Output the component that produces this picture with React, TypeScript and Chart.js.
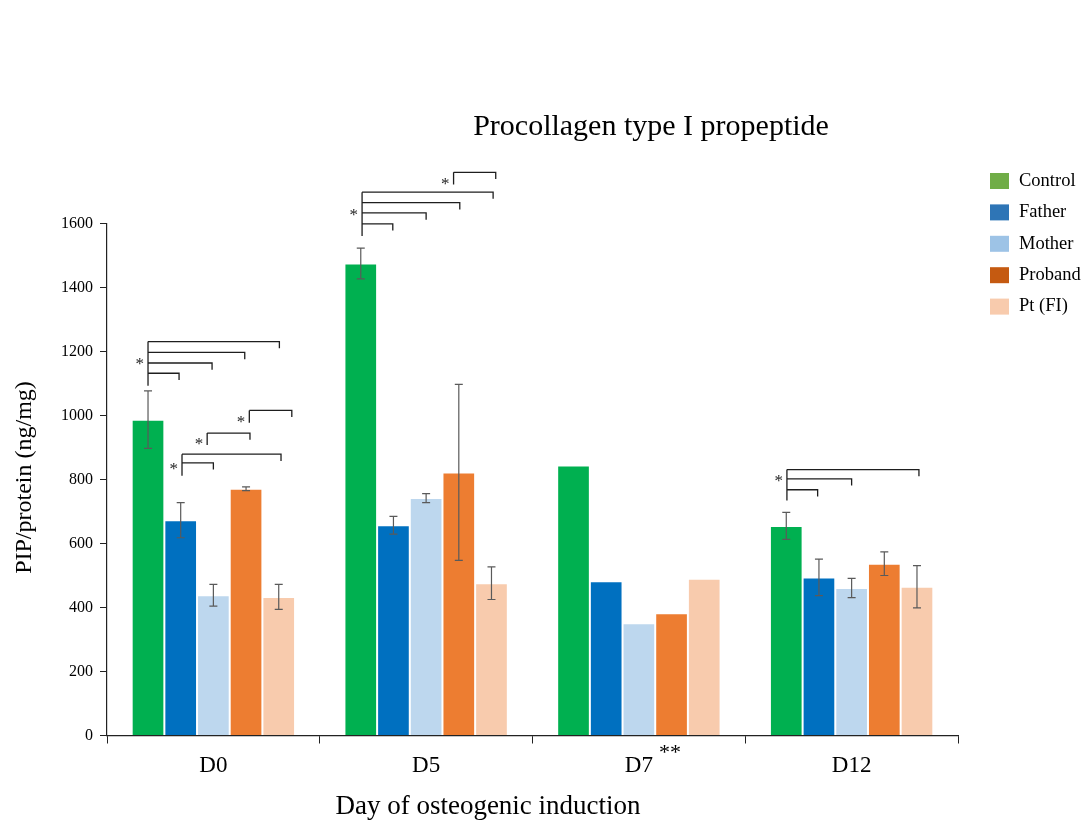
import React, { useEffect, useRef } from 'react';
import { Chart, registerables } from 'chart.js';

Chart.register(...registerables);

const FONT = '"Liberation Serif", "Times New Roman", serif';

const categories = ['D0', 'D5', 'D7', 'D12'];
const seriesNames = ['Control', 'Father', 'Mother', 'Proband', 'Pt (FI)'];

const controlValues = [987, 1475, 844, 655];
const fatherValues = [673, 657, 482, 494];
const motherValues = [438, 742, 351, 461];
const probandValues = [771, 822, 382, 537];
const ptValues = [433, 476, 490, 465];

const controlErrors = [90, 48, null, 42];
const fatherErrors = [55, 28, null, 57];
const motherErrors = [34, 14, null, 30];
const probandErrors = [6, 275, null, 37];
const ptErrors = [39, 51, null, 66];

const barColors = ['#00b050', '#0070c0', '#bdd7ee', '#ed7d31', '#f8cbad'];
const legendColors = ['#70ad47', '#2e75b6', '#9dc3e6', '#c55a11', '#f8cbad'];

const yMin = 0;
const yMax = 1600;
const yStep = 200;

const categoryMarks = ['', '', '**', ''];

// significance brackets: category, start slot (bar index), end slots, levels (data units), base of left line, star level
const sigCats = [0, 0, 0, 0, 1, 1, 3];
const sigFrom = [0, 1.04, 1.81, 3.1, 0.04, 2.84, 0.02];
const sigTo = [[0.95, 1.96, 2.96, 4.02], [2.0, 4.07], [3.12], [4.4], [0.98, 2.0, 3.03, 4.05], [4.13], [0.96, 2.0, 4.06]];
const sigLevels = [[1132, 1164, 1197, 1231], [852, 879], [945], [1016], [1599, 1633, 1665, 1698], [1760], [768, 802, 831]];
const sigBase = [1093, 812, 908, 977, 1561, 1722, 734];
const sigStar = [1170, 842, 921, 988, 1635, 1734, 806];
const sigDrop = 21;

const chartTitle = 'Procollagen type I propeptide';
const yTitle = 'PIP/protein (ng/mg)';
const xTitle = 'Day of osteogenic induction';

const valueSets = [controlValues, fatherValues, motherValues, probandValues, ptValues];
const errorSets = [controlErrors, fatherErrors, motherErrors, probandErrors, ptErrors];

const overlayPlugin = {
  id: 'overlay',
  afterDatasetsDraw(chart: any) {
    const ctx = chart.ctx;
    const ys = chart.scales.y;
    ctx.save();
    // error bars
    ctx.strokeStyle = '#5a5a5a';
    ctx.lineWidth = 1.2;
    chart.data.datasets.forEach((ds: any, i: number) => {
      const meta = chart.getDatasetMeta(i);
      meta.data.forEach((el: any, j: number) => {
        const e = errorSets[i][j];
        if (e == null) return;
        const v = ds.data[j];
        const yt = ys.getPixelForValue(v + e);
        const yb = ys.getPixelForValue(v - e);
        const x = el.x;
        ctx.beginPath();
        ctx.moveTo(x, yt); ctx.lineTo(x, yb);
        ctx.moveTo(x - 4, yt); ctx.lineTo(x + 4, yt);
        ctx.moveTo(x - 4, yb); ctx.lineTo(x + 4, yb);
        ctx.stroke();
      });
    });

    // brackets
    const first = chart.getDatasetMeta(0);
    const last = chart.getDatasetMeta(chart.data.datasets.length - 1);
    const n = chart.data.datasets.length - 1;
    const slotX = (cat: number, s: number) => {
      const x0 = first.data[cat].x;
      const x4 = last.data[cat].x;
      return x0 + (s * (x4 - x0)) / n;
    };
    ctx.strokeStyle = '#1e1e1e';
    ctx.lineWidth = 1.3;
    ctx.fillStyle = '#1e1e1e';
    ctx.font = `17px ${FONT}`;
    ctx.textAlign = 'right';
    ctx.textBaseline = 'middle';
    sigCats.forEach((cat, g) => {
      const xf = slotX(cat, sigFrom[g]);
      const levels = sigLevels[g];
      const top = Math.max(...levels);
      ctx.beginPath();
      ctx.moveTo(xf, ys.getPixelForValue(top));
      ctx.lineTo(xf, ys.getPixelForValue(sigBase[g]));
      sigTo[g].forEach((t, k) => {
        const xt = slotX(cat, t);
        const yl = ys.getPixelForValue(levels[k]);
        ctx.moveTo(xf, yl);
        ctx.lineTo(xt, yl);
        ctx.lineTo(xt, ys.getPixelForValue(levels[k] - sigDrop));
      });
      ctx.stroke();
      ctx.fillText('*', xf - 4, ys.getPixelForValue(sigStar[g]) + 3.5);
    });
    ctx.restore();
  },
  afterDraw(chart: any) {
    const ctx = chart.ctx;
    const xs = chart.scales.x;
    ctx.save();
    ctx.fillStyle = '#000';
    // title
    ctx.font = `30px ${FONT}`;
    ctx.textAlign = 'center';
    ctx.textBaseline = 'middle';
    ctx.fillText(chartTitle, 651, 127);
    // x title
    ctx.font = `27px ${FONT}`;
    ctx.fillText(xTitle, 488, 807);
    // y title
    ctx.save();
    ctx.translate(25, 477.5);
    ctx.rotate(-Math.PI / 2);
    ctx.font = `24px ${FONT}`;
    ctx.fillText(yTitle, 0, 0);
    ctx.restore();
    // category marks
    ctx.font = `22px ${FONT}`;
    ctx.textAlign = 'left';
    categoryMarks.forEach((m, i) => {
      if (!m) return;
      const x = xs.getPixelForValue(i);
      ctx.fillText(m, x + 20, 753);
    });
    // legend
    ctx.font = `18.5px ${FONT}`;
    ctx.textAlign = 'left';
    chart.data.datasets.forEach((ds: any, i: number) => {
      const cy = 181 + i * 31.4;
      ctx.fillStyle = legendColors[i];
      ctx.fillRect(990, cy - 8, 19, 16);
      ctx.fillStyle = '#000';
      ctx.fillText(ds.label, 1019, cy);
    });
    ctx.restore();
  },
};

export default function App() {
  const ref = useRef<HTMLCanvasElement | null>(null);
  useEffect(() => {
    if (!ref.current) return;
    const chart = new Chart(ref.current, {
      type: 'bar',
      data: {
        labels: categories,
        datasets: seriesNames.map((name, i) => ({
          label: name,
          data: valueSets[i],
          backgroundColor: barColors[i],
          borderColor: 'rgba(255,255,255,0.35)',
          borderWidth: { top: 1, left: 1, right: 1, bottom: 0 },
          categoryPercentage: 0.768,
          barPercentage: 1.0,
        })),
      },
      options: {
        animation: false,
        responsive: false,
        layout: { padding: { left: 0, right: 125, top: 223.5, bottom: 0 } },
        plugins: {
          legend: { display: false },
          title: { display: false },
          tooltip: { enabled: false },
        },
        scales: {
          x: {
            grid: { display: true, drawOnChartArea: false, drawTicks: true, tickLength: 8, color: '#222', offset: true },
            border: { color: '#222', width: 1.2 },
            ticks: { color: '#000', font: { family: FONT, size: 23 }, padding: 9 },
            afterFit: (s: any) => { s.height = 86.5; },
          },
          y: {
            min: yMin,
            max: yMax,
            grid: { display: true, drawOnChartArea: false, drawTicks: true, tickLength: 7, color: '#222' },
            border: { color: '#222', width: 1.2 },
            ticks: {
              stepSize: yStep,
              color: '#000',
              font: { family: FONT, size: 16 },
              padding: 7,
              callback: (v: any) => String(v),
            },
            afterFit: (s: any) => { s.width = 107; },
          },
        },
      },
      plugins: [overlayPlugin],
    });
    return () => chart.destroy();
  }, []);
  return (
    <div style={{ position: 'fixed', left: 0, top: 0, width: 1083, height: 822 }}>
      <canvas ref={ref} width={1083} height={822} style={{ display: 'block' }} />
    </div>
  );
}
